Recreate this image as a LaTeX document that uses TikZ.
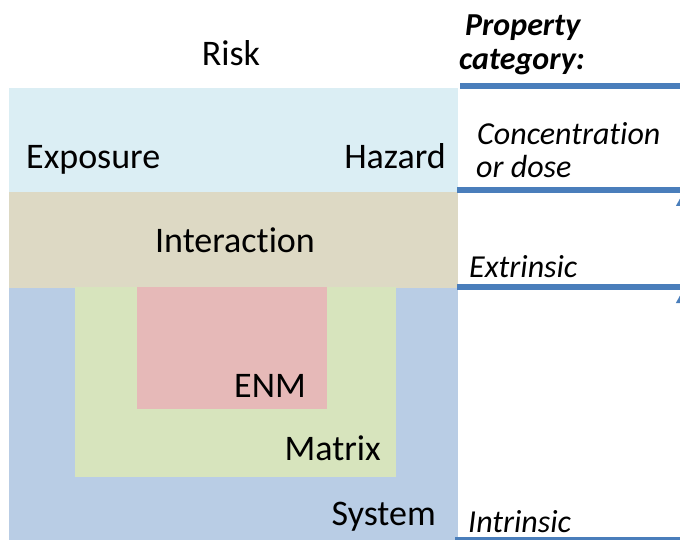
\documentclass[tikz,border=0pt]{standalone}
\usepackage{fontspec}
\setmainfont{Carlito}[Ligatures=NoCommon]
\usetikzlibrary{positioning,arrows.meta}

\definecolor{expoblue}{RGB}{219,238,244}
\definecolor{intertan}{RGB}{221,217,196}
\definecolor{sysblue}{RGB}{185,205,229}
\definecolor{matgreen}{RGB}{215,228,189}
\definecolor{enmpink}{RGB}{230,185,184}
\definecolor{tierblue}{RGB}{74,126,187}

\begin{document}
\begin{tikzpicture}[
		x=1bp, y=-1bp,
		layer/.style={rectangle, inner sep=0pt, anchor=north west},
		txt/.style={inner sep=0pt, font=\fontsize{36bp}{42bp}\selectfont},
		cat/.style={inner sep=0pt, anchor=base west, font=\fontsize{32bp}{38bp}\selectfont\itshape},
		cathead/.style={cat, font=\fontsize{32bp}{38bp}\selectfont\bfseries\itshape},
		tier/.style={draw=tierblue, line width=6bp}
	]
	\useasboundingbox (0,0) rectangle (680,540);
	\clip (0,0) rectangle (680,540);

	% nested layers (slight overlap so no seams show)
	\node[layer, fill=sysblue, minimum width=449bp, minimum height=260bp] (system) at (9,286) {};
	\node[layer, fill=intertan, minimum width=449bp, minimum height=97bp] (interaction) at (9,191) {};
	\node[layer, fill=expoblue, minimum width=449bp, minimum height=104bp] (exposure) at (9,88) {};
	\node[layer, fill=matgreen, minimum width=321bp, minimum height=190bp] (matrix) at (75,287) {};
	\node[layer, fill=enmpink, minimum width=190bp, minimum height=122bp] (enm) at (137,287) {};

	\node[txt, anchor=base] (risk) at (231,66) {Risk};
	\node[txt, anchor=base west] (exposurelbl) at (26,169) {Exposure};
	\node[txt, anchor=base east] (hazardlbl) at (446,169) {Hazard};
	\node[txt, anchor=base] (interactionlbl) at (235,253) {Interaction};
	\node[txt, anchor=base east] (enmlbl) at (306,397) {ENM};
	\node[txt, anchor=base east] (matrixlbl) at (381,460) {Matrix};
	\node[txt, anchor=base east] (systemlbl) at (436,525) {System};

	% property categories
	\node[cathead] (prop) at (465,36) {Property};
	\node[cathead] (categ) at (459,70) {category:};
	\node[cat] (conc) at (477,145) {Concentration};
	\node[cat] (dose) at (476,178) {or dose};
	\node[cat] (extr) at (469,277) {Extrinsic};
	\node[cat] (intr) at (468,532) {Intrinsic};

	\coordinate (t0) at (460,86);
	\coordinate (t1) at (457,190);
	\coordinate (t2) at (457,287);
	\coordinate (t3) at (455,540);
	\foreach \t in {t0,t1,t2,t3}
		\draw[tier] (\t) -- (\t -| 680,0);

	% arrows running up the right edge
	\coordinate (a1) at (684,284);
	\coordinate (a1e) at (684,191);
	\coordinate (a2) at (684,536);
	\coordinate (a2e) at (684,288);
	\draw[tier, -{Triangle[width=15bp,length=15bp]}] (a1) -- (a1e);
	\draw[tier, -{Triangle[width=15bp,length=15bp]}] (a2) -- (a2e);
\end{tikzpicture}
\end{document}
